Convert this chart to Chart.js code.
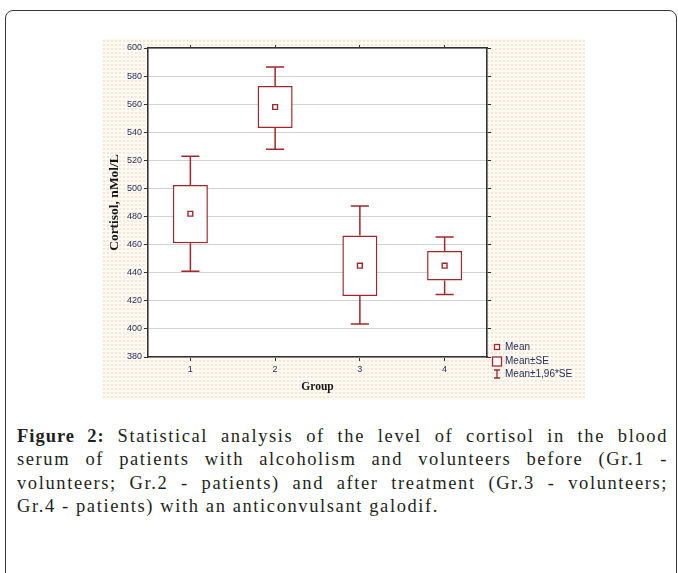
<!DOCTYPE html>
<html lang="en">
<head>
    <meta charset="UTF-8">
    <title>Figure 2: Cortisol by group</title>
    <style>
        body {
            margin: 0;
            background: #fff;
            width: 678px;
            height: 573px;
            overflow: hidden;
            position: relative;
        }
        #frame {
            position: absolute;
            left: 5px;
            top: 10px;
            width: 670px;
            height: 600px;
            border: 1.5px solid #3a3a3a;
            border-radius: 8px;
        }
        /* textured beige panel behind the plot, like the exported figure */
        #panel {
            position: absolute;
            left: 102px;
            top: 39px;
            width: 483px;
            height: 361px;
            background-color: #fefbf1;
            background-image: radial-gradient(#f8e2e0 0.7px, transparent 1px);
            background-size: 4px 4px;
        }
        #caption {
            position: absolute;
            left: 17px;
            top: 425px;
            width: 651px;
            font-family: "Liberation Serif", "Times New Roman", serif;
            font-size: 18.5px;
            line-height: 23.3px;
            letter-spacing: 1.6px;
            color: #231f20;
        }
        #caption b {
            letter-spacing: 1px;
        }
        .ln {
            text-align: justify;
            text-align-last: justify;
        }
        .ln.last {
            text-align-last: left;
        }
    </style>
    <script src="https://cdn.jsdelivr.net/npm/chart.js@4.4.1/dist/chart.umd.min.js"></script>
</head>
<body>
    <div id="frame"></div>
    <div id="panel"><canvas id="cortisolChart" width="483" height="361"></canvas></div>
    <div id="caption">
        <div class="ln"><b>Figure 2:</b> Statistical analysis of the level of cortisol in the blood</div>
        <div class="ln">serum of patients with alcoholism and volunteers before (Gr.1 -</div>
        <div class="ln">volunteers; Gr.2 - patients) and after treatment (Gr.3 - volunteers;</div>
        <div class="ln last">Gr.4 - patients) with an anticonvulsant galodif.</div>
    </div>

    <script>
        // values (nMol/L)
        const groups = ['1', '2', '3', '4'];
        const means = [482, 558, 445, 445];
        const seLow = [461, 543, 423.5, 434.5];
        const seHigh = [502.5, 573, 466.5, 455.5];
        const ciLow = [441, 528, 403.5, 424.5];
        const ciHigh = [523, 586.5, 487.5, 465.5];
        const yTicks = [380, 400, 420, 440, 460, 480, 500, 520, 540, 560, 580, 600];

        const RED = '#a0282c';
        const NAVY = '#24305a';
        const AXIS = '#333333';

        // white plot area on top of the beige panel
        const plotBackground = {
            id: 'plotBackground',
            beforeDraw(chart) {
                const { ctx, chartArea: a } = chart;
                ctx.save();
                ctx.fillStyle = '#ffffff';
                ctx.fillRect(a.left, a.top, a.right - a.left, a.bottom - a.top);
                ctx.restore();
            }
        };

        // Mean±1,96*SE whiskers with caps
        const whiskers = {
            id: 'whiskers',
            afterDatasetsDraw(chart) {
                const { ctx } = chart;
                const xs = chart.scales.x, ys = chart.scales.y;
                const step = xs.getPixelForValue(1) - xs.getPixelForValue(0);
                const cap = step * 0.107;
                ctx.save();
                ctx.strokeStyle = RED;
                ctx.lineWidth = 1.5;
                groups.forEach((g, i) => {
                    const x = xs.getPixelForValue(i);
                    const yHi = ys.getPixelForValue(ciHigh[i]);
                    const yLo = ys.getPixelForValue(ciLow[i]);
                    ctx.beginPath();
                    ctx.moveTo(x, yHi);
                    ctx.lineTo(x, ys.getPixelForValue(seHigh[i]));
                    ctx.moveTo(x, ys.getPixelForValue(seLow[i]));
                    ctx.lineTo(x, yLo);
                    ctx.moveTo(x - cap, yHi);
                    ctx.lineTo(x + cap, yHi);
                    ctx.moveTo(x - cap, yLo);
                    ctx.lineTo(x + cap, yLo);
                    ctx.stroke();
                });
                ctx.restore();
            }
        };

        // small legend in the bottom right corner, Statistica style
        const cornerLegend = {
            id: 'cornerLegend',
            afterDraw(chart) {
                const { ctx, chartArea: a } = chart;
                const gx = a.right + 10;
                const tx = a.right + 18;
                const rows = [a.bottom - 10, a.bottom + 4.5, a.bottom + 17];
                ctx.save();
                ctx.strokeStyle = RED;
                ctx.lineWidth = 1.3;
                ctx.fillStyle = '#fff';
                ctx.fillRect(gx - 2.5, rows[0] - 2.5, 5, 5);
                ctx.strokeRect(gx - 2.5, rows[0] - 2.5, 5, 5);
                ctx.fillRect(gx - 4.5, rows[1] - 4.5, 9, 9);
                ctx.strokeRect(gx - 4.5, rows[1] - 4.5, 9, 9);
                ctx.beginPath();
                ctx.moveTo(gx, rows[2] - 4);
                ctx.lineTo(gx, rows[2] + 4);
                ctx.moveTo(gx - 3, rows[2] - 4);
                ctx.lineTo(gx + 3, rows[2] - 4);
                ctx.moveTo(gx - 3, rows[2] + 4);
                ctx.lineTo(gx + 3, rows[2] + 4);
                ctx.stroke();
                ctx.fillStyle = NAVY;
                ctx.font = '10px "Liberation Sans", Arial, sans-serif';
                ctx.textBaseline = 'middle';
                ctx.fillText('Mean', tx, rows[0]);
                ctx.fillText('Mean\u00b1SE', tx, rows[1]);
                ctx.fillText('Mean\u00b11,96*SE', tx, rows[2]);
                ctx.restore();
            }
        };

        const tickFont = { family: '"Liberation Sans", Arial, sans-serif', size: 9 };
        const titleFont = { family: '"Liberation Serif", "Times New Roman", serif', size: 13.5, weight: 'bold' };

        window.onload = function() {
            const ctx = document.getElementById('cortisolChart').getContext('2d');
            new Chart(ctx, {
                data: {
                    labels: groups,
                    datasets: [{
                        type: 'bar',
                        label: 'Mean\u00b1SE',
                        order: 2,
                        data: seLow.map((lo, i) => [lo, seHigh[i]]),
                        backgroundColor: '#ffffff',
                        borderColor: RED,
                        borderWidth: 1.5,
                        borderSkipped: false,
                        barPercentage: 0.413,
                        categoryPercentage: 1
                    }, {
                        type: 'line',
                        label: 'Mean',
                        order: 1,
                        data: means,
                        showLine: false,
                        pointStyle: 'rect',
                        pointRadius: 3.4,
                        pointBorderWidth: 1.4,
                        pointBackgroundColor: '#ffffff',
                        pointBorderColor: RED
                    }]
                },
                options: {
                    responsive: false,
                    animation: false,
                    plugins: {
                        legend: { display: false },
                        tooltip: { enabled: false }
                    },
                    layout: { padding: 0 },
                    scales: {
                        x: {
                            type: 'category',
                            position: 'bottom',
                            offset: true,
                            grid: { offset: false, drawOnChartArea: false, color: AXIS, tickColor: AXIS, tickLength: 4 },
                            border: { display: true, color: AXIS, width: 1.6 },
                            ticks: { font: tickFont, color: NAVY, padding: 3, maxRotation: 0 },
                            title: { display: true, text: 'Group', font: { ...titleFont, size: 11.5 }, color: '#151515', padding: { top: 6, bottom: 6 } },
                            afterFit: s => { s.height = 43; }
                        },
                        x2: {
                            type: 'category',
                            position: 'top',
                            offset: true,
                            grid: { offset: false, drawOnChartArea: false, color: AXIS, tickColor: AXIS, tickLength: 3 },
                            border: { display: true, color: AXIS, width: 1.6 },
                            ticks: { display: false },
                            afterFit: s => { s.height = 9; }
                        },
                        y: {
                            type: 'linear',
                            position: 'left',
                            min: yTicks[0],
                            max: yTicks[yTicks.length - 1],
                            afterBuildTicks: s => { s.ticks = yTicks.map(v => ({ value: v })); },
                            grid: { color: '#d2d2d2', lineWidth: 1, tickColor: AXIS, tickLength: 4 },
                            border: { display: true, color: AXIS, width: 1.6 },
                            ticks: { font: tickFont, color: NAVY, padding: 2 },
                            title: { display: true, text: 'Cortisol, nMol/L', font: titleFont, color: '#151515', padding: { top: 4, bottom: 4 } },
                            afterFit: s => { s.width = 46; }
                        },
                        y2: {
                            type: 'linear',
                            position: 'right',
                            min: yTicks[0],
                            max: yTicks[yTicks.length - 1],
                            afterBuildTicks: s => { s.ticks = yTicks.map(v => ({ value: v })); },
                            grid: { drawOnChartArea: false, color: AXIS, tickColor: AXIS, tickLength: 4 },
                            border: { display: true, color: AXIS, width: 1.6 },
                            ticks: { display: false },
                            afterFit: s => { s.width = 98; }
                        }
                    }
                },
                plugins: [plotBackground, whiskers, cornerLegend]
            });
        };
    </script>
</body>
</html>
